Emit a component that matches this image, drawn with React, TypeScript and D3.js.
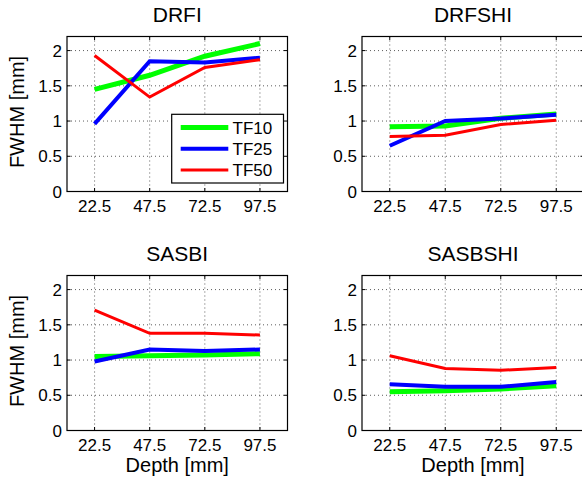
import React from "react";
import * as d3 from "d3";

const depths = [22.5, 47.5, 72.5, 97.5];
const xTickLabels = ["22.5", "47.5", "72.5", "97.5"];
const yTicks = [0, 0.5, 1, 1.5, 2];
const yTickLabels = ["0", "0.5", "1", "1.5", "2"];
const panelTitles = ["DRFI", "DRFSHI", "SASBI", "SASBSHI"];
const seriesNames = ["TF10", "TF25", "TF50"];
const seriesColors = ["#00ff00", "#0000ff", "#ff0000"];
const seriesWidths = [5, 4, 3];

// values per panel, per series (TF10, TF25, TF50)
const drfiTF10 = [1.45, 1.65, 1.92, 2.1];
const drfiTF25 = [0.96, 1.85, 1.83, 1.9];
const drfiTF50 = [1.93, 1.34, 1.76, 1.87];

const drfshiTF10 = [0.92, 0.93, 1.04, 1.1];
const drfshiTF25 = [0.65, 1.0, 1.035, 1.09];
const drfshiTF50 = [0.78, 0.8, 0.95, 1.01];

const sasbiTF10 = [1.05, 1.06, 1.07, 1.09];
const sasbiTF25 = [0.98, 1.15, 1.13, 1.15];
const sasbiTF50 = [1.71, 1.38, 1.38, 1.355];

const sasbshiTF10 = [0.55, 0.565, 0.59, 0.635];
const sasbshiTF25 = [0.655, 0.62, 0.62, 0.69];
const sasbshiTF50 = [1.06, 0.88, 0.855, 0.895];

const panelData = [
  [drfiTF10, drfiTF25, drfiTF50],
  [drfshiTF10, drfshiTF25, drfshiTF50],
  [sasbiTF10, sasbiTF25, sasbiTF50],
  [sasbshiTF10, sasbshiTF25, sasbshiTF50],
];

const xDomain: [number, number] = [10, 110];
const yDomain: [number, number] = [0, 2.2];

const FONT = "'Liberation Sans', Arial, Helvetica, sans-serif";

const layout = [
  { x0: 67, x1: 287.5, y0: 36.5, y1: 191.5 },
  { x0: 362, x1: 584, y0: 36.5, y1: 191.5 },
  { x0: 67, x1: 287.5, y0: 275.5, y1: 430.5 },
  { x0: 362, x1: 584, y0: 275.5, y1: 430.5 },
];

function Panel({ idx }: { idx: number }) {
  const L = layout[idx];
  const x = d3.scaleLinear().domain(xDomain).range([L.x0, L.x1]);
  const y = d3.scaleLinear().domain(yDomain).range([L.y1, L.y0]);
  const line = d3
    .line<number>()
    .x((_, i) => x(depths[i]))
    .y((d) => y(d));
  const showYLabel = idx % 2 === 0;
  const showXLabel = idx >= 2;
  const cx = (L.x0 + L.x1) / 2;
  const cy = (L.y0 + L.y1) / 2;
  const tl = 3.5;
  return (
    <g>
      <rect x={L.x0} y={L.y0} width={L.x1 - L.x0} height={L.y1 - L.y0} fill="#fff" />
      {/* grid */}
      {depths.map((d, i) => (
        <line
          key={"gx" + i}
          x1={x(d)}
          x2={x(d)}
          y1={L.y0}
          y2={L.y1}
          stroke="#333"
          strokeWidth={0.8}
          strokeDasharray="1 3"
        />
      ))}
      {yTicks.map((t, i) => (
        <line
          key={"gy" + i}
          x1={L.x0}
          x2={L.x1}
          y1={y(t)}
          y2={y(t)}
          stroke="#333"
          strokeWidth={0.8}
          strokeDasharray="1 3"
        />
      ))}
      {/* ticks */}
      {depths.map((d, i) => (
        <g key={"tx" + i}>
          <line x1={x(d)} x2={x(d)} y1={L.y1} y2={L.y1 - tl} stroke="#000" strokeWidth={1} />
          <line x1={x(d)} x2={x(d)} y1={L.y0} y2={L.y0 + tl} stroke="#000" strokeWidth={1} />
        </g>
      ))}
      {yTicks.map((t, i) => (
        <g key={"ty" + i}>
          <line x1={L.x0} x2={L.x0 + tl} y1={y(t)} y2={y(t)} stroke="#000" strokeWidth={1} />
          <line x1={L.x1} x2={L.x1 - tl} y1={y(t)} y2={y(t)} stroke="#000" strokeWidth={1} />
        </g>
      ))}
      {/* data */}
      {panelData[idx].map((vals, s) => (
        <path
          key={"s" + s}
          d={line(vals) || ""}
          fill="none"
          stroke={seriesColors[s]}
          strokeWidth={seriesWidths[s]}
          strokeLinejoin="miter"
        />
      ))}
      {/* box */}
      <rect
        x={L.x0}
        y={L.y0}
        width={L.x1 - L.x0}
        height={L.y1 - L.y0}
        fill="none"
        stroke="#000"
        strokeWidth={1.2}
      />
      {/* tick labels */}
      {depths.map((d, i) => (
        <text
          key={"xl" + i}
          x={x(d)}
          y={L.y1 + 20.5}
          textAnchor="middle"
          fontSize={17}
          fontFamily={FONT}
          fill="#000"
        >
          {xTickLabels[i]}
        </text>
      ))}
      {yTicks.map((t, i) => (
        <text
          key={"yl" + i}
          x={L.x0 - 5}
          y={y(t) + 6}
          textAnchor="end"
          fontSize={17}
          fontFamily={FONT}
          fill="#000"
        >
          {yTickLabels[i]}
        </text>
      ))}
      {/* title */}
      <text x={cx} y={L.y0 - 15} textAnchor="middle" fontSize={21} fontFamily={FONT} fill="#000">
        {panelTitles[idx]}
      </text>
      {showYLabel && (
        <text
          transform={`translate(${L.x0 - 43},${cy - 2}) rotate(-90)`}
          textAnchor="middle"
          fontSize={20}
          fontFamily={FONT}
          fill="#000"
        >
          FWHM [mm]
        </text>
      )}
      {showXLabel && (
        <text x={cx} y={L.y1 + 41.5} textAnchor="middle" fontSize={20} fontFamily={FONT} fill="#000">
          Depth [mm]
        </text>
      )}
      {idx === 0 && (
        <g>
          <rect x={171.7} y={114.3} width={111.8} height={68.7} fill="#fff" stroke="#000" strokeWidth={1.2} />
          {seriesNames.map((n, s) => {
            const ly = 127.5 + s * 21.3;
            return (
              <g key={"lg" + s}>
                <line x1={180.7} x2={228.3} y1={ly} y2={ly} stroke={seriesColors[s]} strokeWidth={seriesWidths[s]} />
                <text x={232.5} y={ly + 6} fontSize={17} fontFamily={FONT} fill="#000">
                  {n}
                </text>
              </g>
            );
          })}
        </g>
      )}
    </g>
  );
}

export default function App() {
  return (
    <svg
      width={582}
      height={483}
      style={{ position: "absolute", left: 0, top: 0, background: "#fff" }}
    >
      <rect x={0} y={0} width={582} height={483} fill="#fff" />
      {[0, 1, 2, 3].map((i) => (
        <Panel key={i} idx={i} />
      ))}
    </svg>
  );
}
